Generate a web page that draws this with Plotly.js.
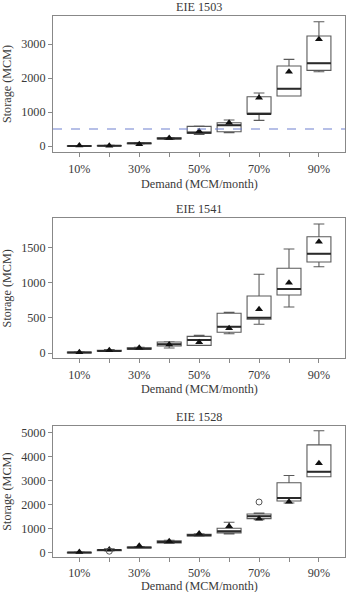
<!DOCTYPE html>
<html><head><meta charset="utf-8">
<script src="https://cdn.plot.ly/plotly-3.0.1.min.js"></script>
<style>html,body{margin:0;padding:0;background:#fff}#chart{width:350px;height:592px}</style>
</head><body><div id="chart"></div>
<script>
const categories = ['10%','20%','30%','40%','50%','60%','70%','80%','90%'];
const tickLabels = ['10%','','30%','','50%','','70%','','90%'];
const panelTitles = ['EIE 1503','EIE 1541','EIE 1528'];
const xTitle = 'Demand (MCM/month)';
const yTitle = 'Storage (MCM)';
const threshold1503 = 500;

// EIE 1503
const q1_1503     = [-3, 0, 65, 205, 380, 420, 941, 1471, 2226];
const median_1503 = [0, 5, 78, 220, 392, 608, 941, 1686, 2432];
const q3_1503     = [5, 15, 90, 240, 578, 686, 1451, 2353, 3235];
const lower_1503  = [-5, -5, 60, 195, 340, 392, 755, 1471, 2186];
const upper_1503  = [10, 20, 95, 250, 590, 765, 1559, 2549, 3656];
const mean_1503   = [15, 10, 55, 235, 431, 686, 1422, 2186, 3137];

// EIE 1541
const q1_1541     = [2, 25, 55, 99, 109, 294, 479, 824, 1293];
const median_1541 = [8, 30, 62, 123, 185, 374, 500, 909, 1411];
const q3_1541     = [15, 40, 75, 156, 237, 564, 810, 1203, 1652];
const lower_1541  = [0, 22, 50, 71, 109, 274, 408, 653, 1226];
const upper_1541  = [18, 50, 80, 160, 252, 578, 1118, 1477, 1832];
const mean_1541   = [10, 40, 75, 120, 152, 351, 621, 999, 1581];

// EIE 1528
const q1_1528     = [-15, 75, 190, 400, 690, 818, 1412, 2148, 3157];
const median_1528 = [0, 100, 207, 443, 720, 885, 1508, 2272, 3365];
const q3_1528     = [10, 115, 230, 490, 760, 1010, 1608, 2908, 4487];
const lower_1528  = [-20, 70, 185, 380, 680, 777, 1371, 2065, 3157];
const upper_1528  = [20, 150, 250, 510, 780, 1259, 1650, 3212, 5081];
const mean_1528   = [20, 130, 277, 470, 790, 1093, 1412, 2119, 3726];
const outlierCat_1528 = ['20%', '70%'];
const outlierVal_1528 = [55, 2106];

const panels = [
  {q1:q1_1503, med:median_1503, q3:q3_1503, lo:lower_1503, up:upper_1503, mean:mean_1503, range:[-176,3824], dtick:1000},
  {q1:q1_1541, med:median_1541, q3:q3_1541, lo:lower_1541, up:upper_1541, mean:mean_1541, range:[-75,1913], dtick:500},
  {q1:q1_1528, med:median_1528, q3:q3_1528, lo:lower_1528, up:upper_1528, mean:mean_1528, range:[-200,5276], dtick:1000}
];

const H = 592, W = 350;
const yDom = [[1-152/H, 1-16/H],[1-358.3/H, 1-218.3/H],[1-557.3/H, 1-426/H]];
const xTitleY = [184, 389, 585.5];
const labelStandoff = [1, 1, 0];
const xDom = [53/W, 345/W];
const font = {family:'"Liberation Serif", "DejaVu Serif", serif', size:12.2, color:'#3a3a3a'};
const frame = '#888';

const traces = [];
const layout = {
  width:W, height:H, margin:{l:0,r:0,t:0,b:0},
  paper_bgcolor:'#fff', plot_bgcolor:'#fff', showlegend:false, font:font,
  annotations:[], shapes:[]
};

panels.forEach((p,i)=>{
  const sx = i===0 ? '' : String(i+1);
  traces.push({
    type:'box', x:categories, q1:p.q1, median:p.med, q3:p.q3,
    lowerfence:p.lo, upperfence:p.up, boxpoints:false,
    xaxis:'x'+sx, yaxis:'y'+sx, width:0.8, whiskerwidth:0.45,
    fillcolor:'rgba(0,0,0,0)', line:{color:'#5a5a5a', width:1.1}, hoverinfo:'skip'
  });
  // thick median line, drawn as a zero-height box at the median value
  traces.push({
    type:'box', x:categories, q1:p.med, median:p.med, q3:p.med,
    lowerfence:p.med, upperfence:p.med, boxpoints:false,
    xaxis:'x'+sx, yaxis:'y'+sx, width:0.8, whiskerwidth:0,
    fillcolor:'rgba(0,0,0,0)', line:{color:'#2a2a2a', width:2}, hoverinfo:'skip'
  });
  traces.push({
    type:'scatter', mode:'markers', x:categories, y:p.mean,
    xaxis:'x'+sx, yaxis:'y'+sx,
    marker:{symbol:'triangle-up', size:7, color:'#111'}, hoverinfo:'skip'
  });
  layout['xaxis'+sx] = {
    domain:xDom, anchor:'y'+sx, type:'category', categoryorder:'array', categoryarray:categories,
    range:[-0.88, 8.87], tickvals:categories, ticktext:tickLabels,
    ticks:'outside', ticklen:4, tickcolor:frame, showline:true, linecolor:frame, linewidth:1, mirror:true,
    showgrid:false, zeroline:false, tickfont:font, ticklabelstandoff:labelStandoff[i]
  };
  layout['yaxis'+sx] = {
    domain:yDom[i], anchor:'x'+sx, range:p.range, dtick:p.dtick, tick0:0,
    ticks:'outside', ticklen:4, tickcolor:frame, showline:true, linecolor:frame, linewidth:1, mirror:true,
    showgrid:false, zeroline:false, tickfont:font,
    title:{text:yTitle, font:font, standoff:6}
  };
  layout.annotations.push({
    text:panelTitles[i], xref:'paper', yref:'paper', x:(xDom[0]+xDom[1])/2, y:yDom[i][1],
    yanchor:'bottom', xanchor:'center', showarrow:false, font:font
  });
  layout.annotations.push({
    text:xTitle, xref:'paper', yref:'paper', x:(xDom[0]+xDom[1])/2, y:1-xTitleY[i]/H,
    yanchor:'middle', xanchor:'center', showarrow:false, font:font
  });
});

traces.push({
  type:'scatter', mode:'markers', x:outlierCat_1528, y:outlierVal_1528, xaxis:'x3', yaxis:'y3',
  marker:{symbol:'circle-open', size:6, color:'#555', line:{width:1}}, hoverinfo:'skip'
});

layout.shapes.push({
  type:'line', xref:'x domain', yref:'y', x0:0, x1:1, y0:threshold1503, y1:threshold1503,
  line:{color:'#6f80d0', width:1.2, dash:'dash'}
});

Plotly.newPlot('chart', traces, layout, {displayModeBar:false, staticPlot:true});
</script></body></html>
